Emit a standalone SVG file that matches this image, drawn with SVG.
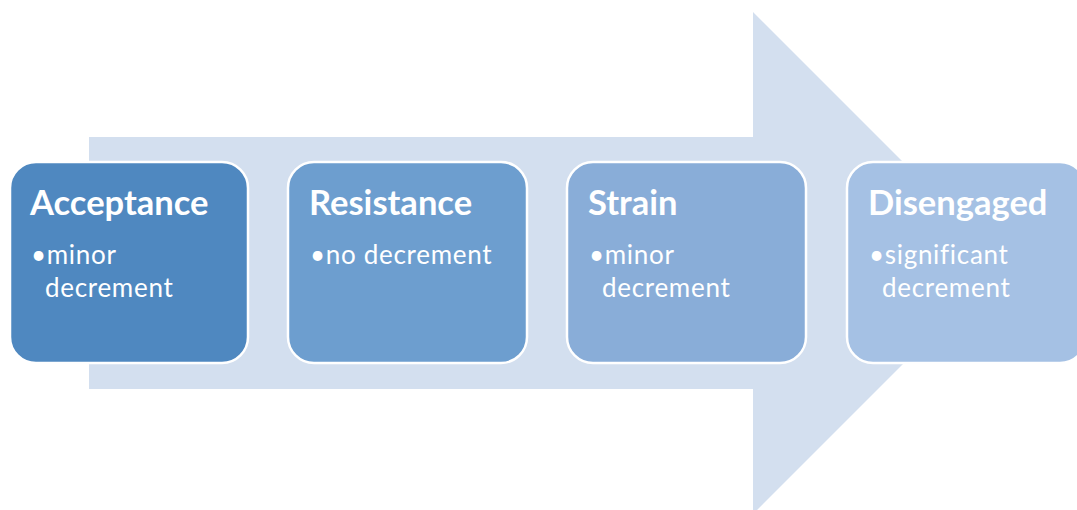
<svg xmlns="http://www.w3.org/2000/svg" width="1077" height="510" viewBox="0 0 1077 510">
  <style>
    .box { stroke: #ffffff; stroke-width: 2.5; }
    .title { font-family: Lato, "Liberation Sans", sans-serif; font-weight: bold; font-size: 34.5px; fill: #ffffff; }
    .body { font-family: Lato, "Liberation Sans", sans-serif; font-size: 26px; letter-spacing: 0.7px; fill: #ffffff; }
  </style>
  <rect width="1077" height="510" fill="#ffffff"/>
  <!-- background process arrow -->
  <g id="connectors">
    <polygon points="89,137 753,137 753,12 1004,263 753,514 753,389 89,389" fill="#d3dfef"/>
  </g>
  <g id="node-acceptance">
    <rect class="box" x="10" y="162" width="238" height="201" rx="26" fill="#4f88c0"/>
    <text class="title" x="30" y="215">Acceptance</text>
    <text class="body" x="31" y="264">•minor</text>
    <text class="body" x="45" y="297">decrement</text>
  </g>
  <g id="node-resistance">
    <rect class="box" x="288" y="162" width="239" height="201" rx="26" fill="#6d9ecf"/>
    <text class="title" x="309" y="215">Resistance</text>
    <text class="body" x="310" y="264">•no decrement</text>
  </g>
  <g id="node-strain">
    <rect class="box" x="567" y="162" width="239" height="201" rx="26" fill="#89add8"/>
    <text class="title" x="588" y="215">Strain</text>
    <text class="body" x="589" y="264">•minor</text>
    <text class="body" x="602" y="297">decrement</text>
  </g>
  <g id="node-disengaged">
    <rect class="box" x="847" y="162" width="239" height="201" rx="26" fill="#a5c1e4"/>
    <text class="title" x="868" y="215">Disengaged</text>
    <text class="body" x="869" y="264">•significant</text>
    <text class="body" x="882" y="297">decrement</text>
  </g>
</svg>
